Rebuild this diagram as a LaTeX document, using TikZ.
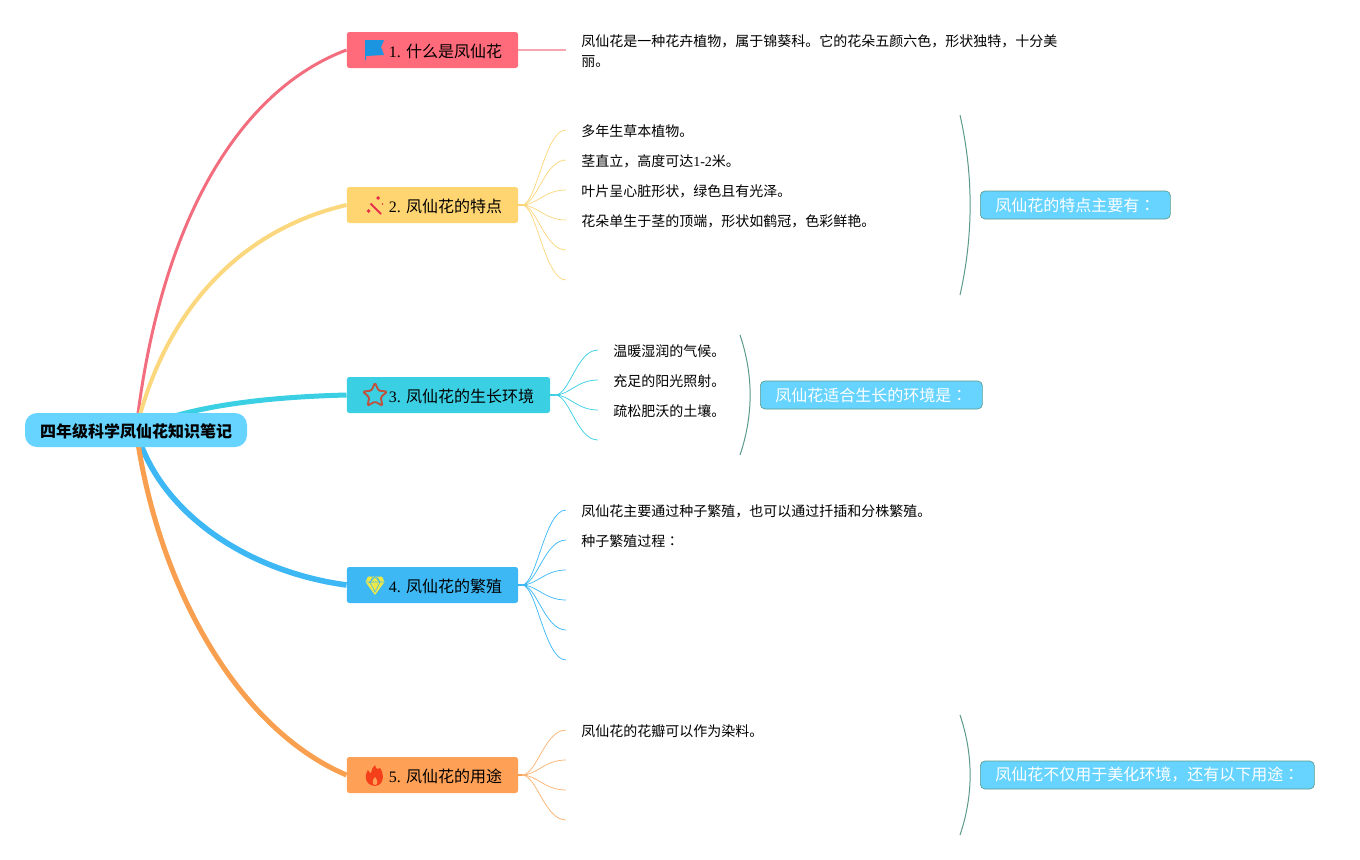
\documentclass[tikz,border=0pt]{standalone}
\usepackage{fontspec}
\usepackage{xcolor}
\usepackage{tikz}
\usetikzlibrary{positioning,shapes.geometric,backgrounds}
\setmainfont{Liberation Serif}
\newfontfamily\cjk{Noto Sans CJK SC}
\newfontfamily\cjkcolon{Noto Sans CJK TC}
\newcommand{\zh}[1]{{\cjk #1}}
\newcommand{\zhcolon}{{\cjkcolon ：}}
\definecolor{rootblue}{HTML}{66D4FF}
\definecolor{softpink}{HTML}{FF6B7A}
\definecolor{softyellow}{HTML}{FFD572}
\definecolor{softcyan}{HTML}{3BCFE3}
\definecolor{softblue}{HTML}{3DB8F5}
\definecolor{softorange}{HTML}{FFA057}
\definecolor{linepink}{HTML}{F26D7E}
\definecolor{lineyellow}{HTML}{FBD77D}
\definecolor{lineorange}{HTML}{F9A050}
\definecolor{bracegreen}{HTML}{5B9A8B}
\definecolor{flagblue}{HTML}{1B95E0}
\definecolor{wandred}{HTML}{E8304A}
\definecolor{starred}{HTML}{C0503C}
\definecolor{gemyellow}{HTML}{EDE84A}
\definecolor{flamered}{HTML}{F4401A}

\begin{document}
\begin{tikzpicture}[x=0.75pt,y=-0.75pt]
\tikzstyle{root}=[fill=rootblue,rounded corners=9pt,inner xsep=11.25pt,minimum height=25.5pt,inner ysep=0pt,text height=10.5pt,text depth=0pt,font=\bfseries\fontsize{12}{14}\selectfont]
\tikzstyle{topic}=[anchor=west,rounded corners=2pt,inner xsep=12pt,inner ysep=0pt,minimum height=27pt,text height=10.5pt,text depth=0pt,font=\fontsize{12}{14}\selectfont]
\tikzstyle{leaf}=[anchor=west,inner xsep=11.25pt,inner ysep=0pt,align=left,text height=9.5pt,text depth=0pt,font=\fontsize{10.5}{15}\selectfont]
\tikzstyle{note}=[fill=rootblue,draw=bracegreen,line width=0.5pt,rounded corners=3.5pt,text=white,anchor=west,inner xsep=11.25pt,inner ysep=0pt,minimum height=21pt,font=\fontsize{12}{14}\selectfont]
\tikzstyle{twig}=[line width=0.55pt,out=0,in=180,out distance=11pt,in distance=16pt]
\tikzstyle{brace}=[draw=bracegreen,line width=0.75pt]
\useasboundingbox (0,0) rectangle (1360,860);

\node[root] (center) at (136,430) {\zh{四年级科学凤仙花知识笔记}};
\node[topic,fill=softpink] (what) at (346.5,50) {\hspace*{19.5pt}1. \zh{什么是凤仙花}};
\node[topic,fill=softyellow] (traits) at (346.5,205) {\hspace*{19.5pt}2. \zh{凤仙花的特点}};
\node[topic,fill=softcyan] (habitat) at (346.5,395) {\hspace*{19.5pt}3. \zh{凤仙花的生长环境}};
\node[topic,fill=softblue] (breed) at (346.5,585) {\hspace*{19.5pt}4. \zh{凤仙花的繁殖}};
\node[topic,fill=softorange] (uses) at (346.5,775) {\hspace*{19.5pt}5. \zh{凤仙花的用途}};

\node[leaf,text height=,text depth=] (whatA) at (566,51.5) {\zh{凤仙花是一种花卉植物，属于锦葵科。它的花朵五颜六色，形状独特，十分美}\\\zh{丽。}};
\node[leaf] (traitsA) at (566,130) {\zh{多年生草本植物。}};
\node[leaf] (traitsB) at (566,160) {\zh{茎直立，高度可达}1-2\zh{米。}};
\node[leaf] (traitsC) at (566,190) {\zh{叶片呈心脏形状，绿色且有光泽。}};
\node[leaf] (traitsD) at (566,220) {\zh{花朵单生于茎的顶端，形状如鹤冠，色彩鲜艳。}};
\coordinate (traitsE) at (566,250);
\coordinate (traitsF) at (566,280);
\node[leaf] (habitatA) at (598,350) {\zh{温暖湿润的气候。}};
\node[leaf] (habitatB) at (598,380) {\zh{充足的阳光照射。}};
\node[leaf] (habitatC) at (598,410) {\zh{疏松肥沃的土壤。}};
\coordinate (habitatD) at (598,440);
\node[leaf] (breedA) at (566,510) {\zh{凤仙花主要通过种子繁殖，也可以通过扦插和分株繁殖。}};
\node[leaf] (breedB) at (566,540) {\zh{种子繁殖过程}\zhcolon};
\coordinate (breedC) at (566,570);
\coordinate (breedD) at (566,600);
\coordinate (breedE) at (566,630);
\coordinate (breedF) at (566,660);
\node[leaf] (usesA) at (566,730) {\zh{凤仙花的花瓣可以作为染料。}};
\coordinate (usesB) at (566,760);
\coordinate (usesC) at (566,790);
\coordinate (usesD) at (566,820);

\coordinate (traitsHub) at (522,205);
\coordinate (habitatHub) at (555,395);
\coordinate (breedHub) at (522,585);
\coordinate (usesHub) at (522,775);

\coordinate (traitsTop) at (960,115);
\coordinate (traitsBot) at (960,295);
\coordinate (habitatTop) at (740,335);
\coordinate (habitatBot) at (740,455);
\coordinate (usesTop) at (960,715);
\coordinate (usesBot) at (960,835);
\node[note] (traitsNote) at (980,205) {\zh{凤仙花的特点主要有}\zhcolon};
\node[note] (habitatNote) at (760,395) {\zh{凤仙花适合生长的环境是}\zhcolon};
\node[note] (usesNote) at (980,775) {\zh{凤仙花不仅用于美化环境，还有以下用途}\zhcolon};

\fill[flagblue] (365,40) -- (384,40) -- (381,47) -- (384,55) -- (366,56) -- (366,60) -- (365,60) -- cycle;
\draw[wandred,line width=1.5pt] (370.5,203.5) -- (381,214);
\fill[wandred] (366.5,211) -- (368.5,209) -- (370.5,211) -- (368.5,213) -- cycle (376,198) -- (378,196) -- (380,198) -- (378,200) -- cycle (382.5,204) circle (0.7pt);
\node[star,star points=5,star point ratio=2.1,draw=starred,line width=1.4pt,rounded corners=1pt,inner sep=0pt,minimum size=19pt] (habitatStar) at (375,395.5) {};
\fill[gemyellow] (368,576.5) -- (382,576.5) -- (384.5,582) -- (375,595) -- (365.5,582) -- cycle;
\draw[softblue,line width=0.4pt] (366,582) -- (384,582) (370,582) -- (375,592) -- (380,582) (373,577) -- (370,582) -- (375,577) -- (380,582) (377,577) -- (380,582);
\fill[flamered] (375,765) .. controls (376,770) and (379,770) .. (380,768) .. controls (384,773) and (385,785) .. (375,786) .. controls (365,785) and (364,776) .. (368,770) .. controls (369,772) and (370,773) .. (371,773) .. controls (371,770) and (373,767) .. (375,765) -- cycle;
\fill[softorange] (375,777) .. controls (378,780) and (378,785) .. (375,785) .. controls (372,785) and (372,780) .. (375,777) -- cycle;

\begin{pgfonlayer}{background}
\draw[linepink,line width=2.25pt] (center.center) .. controls (160,220) and (240,90) .. (what.west);
\draw[lineyellow,line width=3pt] (center.center) .. controls (165,310) and (240,230) .. (traits.west);
\draw[softcyan,line width=3.75pt] (center.center) .. controls (190,405) and (270,397) .. (habitat.west);
\draw[softblue,line width=4.2pt] (center.center) .. controls (160,515) and (250,572) .. (breed.west);
\draw[lineorange,line width=3.75pt] (center.center) .. controls (158,590) and (240,730) .. (uses.west);

\draw[linepink!60!white,line width=1pt] (what.east) -- (whatA.west |- what.east);
\draw[softyellow,line width=1.5pt] (traits.east) -- (traitsHub);
\draw[softcyan,line width=1.5pt] (habitat.east) -- (habitatHub);
\draw[softblue,line width=1.5pt] (breed.east) -- (breedHub);
\draw[lineorange,line width=1.5pt] (uses.east) -- (usesHub);

\draw[twig,lineyellow] (traitsHub) to (traitsA.west);
\draw[twig,lineyellow] (traitsHub) to (traitsB.west);
\draw[twig,lineyellow] (traitsHub) to (traitsC.west);
\draw[twig,lineyellow] (traitsHub) to (traitsD.west);
\draw[twig,lineyellow] (traitsHub) to (traitsE);
\draw[twig,lineyellow] (traitsHub) to (traitsF);
\draw[twig,softcyan] (habitatHub) to (habitatA.west);
\draw[twig,softcyan] (habitatHub) to (habitatB.west);
\draw[twig,softcyan] (habitatHub) to (habitatC.west);
\draw[twig,softcyan] (habitatHub) to (habitatD);
\draw[twig,softblue] (breedHub) to (breedA.west);
\draw[twig,softblue] (breedHub) to (breedB.west);
\draw[twig,softblue] (breedHub) to (breedC);
\draw[twig,softblue] (breedHub) to (breedD);
\draw[twig,softblue] (breedHub) to (breedE);
\draw[twig,softblue] (breedHub) to (breedF);
\draw[twig,lineorange!80!white] (usesHub) to (usesA.west);
\draw[twig,lineorange!80!white] (usesHub) to (usesB);
\draw[twig,lineorange!80!white] (usesHub) to (usesC);
\draw[twig,lineorange!80!white] (usesHub) to (usesD);
\end{pgfonlayer}

\draw[brace] (traitsTop) .. controls (973.5,175) and (973.5,235) .. (traitsBot);
\draw[brace] (habitatTop) .. controls (753.5,375) and (753.5,415) .. (habitatBot);
\draw[brace] (usesTop) .. controls (973.5,755) and (973.5,795) .. (usesBot);
\end{tikzpicture}
\end{document}
